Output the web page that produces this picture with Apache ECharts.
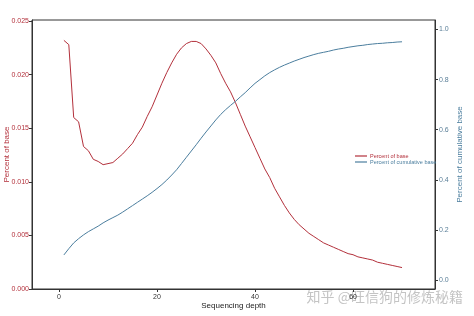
<!DOCTYPE html>
<html>
<head>
<meta charset="utf-8">
<script src="https://cdn.jsdelivr.net/npm/echarts@6/dist/echarts.min.js"></script>
<style>
html,body{margin:0;padding:0;background:#fff;}
#c{width:474px;height:316px;}
</style>
</head>
<body>
<div id="c"></div>
<script>
var depth = [];
for (var i = 1; i <= 70; i++) depth.push(i);
var percentBase = [
 0.0232,0.0228,0.0160,0.0156,0.0133,0.0129,0.0121,0.0119,0.0116,0.0117,
 0.0118,0.0122,0.0126,0.0131,0.0136,0.0144,0.0151,0.0161,0.0170,0.0181,
 0.0192,0.0202,0.0211,0.0219,0.0225,0.0229,0.0231,0.0231,0.0229,0.0224,
 0.0218,0.0211,0.0201,0.0192,0.0184,0.0174,0.0163,0.0152,0.0142,0.0132,
 0.0122,0.0112,0.0104,0.0094,0.0086,0.0078,0.0071,0.0065,0.0060,0.0056,
 0.0052,0.0049,0.0046,0.0043,0.0041,0.0039,0.0037,0.0035,0.0033,0.0032,
 0.0030,0.0029,0.0028,0.0027,0.0025,0.0024,0.0023,0.0022,0.0021,0.0020
];
var percentCumulative = [
 0.100,0.125,0.148,0.165,0.180,0.193,0.204,0.215,0.228,0.239,
 0.249,0.259,0.271,0.284,0.297,0.310,0.323,0.336,0.350,0.365,
 0.381,0.399,0.419,0.440,0.465,0.490,0.515,0.540,0.566,0.591,
 0.615,0.639,0.661,0.680,0.697,0.713,0.731,0.748,0.767,0.785,
 0.800,0.815,0.828,0.839,0.849,0.858,0.866,0.874,0.881,0.888,
 0.894,0.900,0.905,0.909,0.913,0.918,0.922,0.925,0.929,0.932,
 0.935,0.937,0.940,0.942,0.944,0.945,0.947,0.948,0.950,0.951
];
var xTicks = [0, 20, 40, 60];
var leftTicks = [0, 0.005, 0.010, 0.015, 0.020, 0.025];
var rightTicks = [0, 0.2, 0.4, 0.6, 0.8, 1.0];

var RED = '#b3303b';
var BLUE = '#4b7e9e';
var FONT = 'Liberation Sans, Arial, sans-serif';

function pairs(xs, ys){ return xs.map(function(x,i){ return [x, ys[i]]; }); }

var chart = echarts.init(document.getElementById('c'), null, {renderer:'canvas'});
chart.setOption({
  animation:false,
  backgroundColor:'#fff',
  textStyle:{fontFamily:FONT},
  grid:{left:32, right:39, top:20, bottom:27, containLabel:false, outerBoundsMode:'none',
    show:true, borderColor:'#333', borderWidth:1, backgroundColor:'transparent'},
  xAxis:{
    type:'value', min:-5.51, max:76.73,
    name:'Sequencing depth', nameLocation:'middle', nameGap:13, nameMoveOverlap:false,
    nameTextStyle:{fontSize:8, color:'#222', fontFamily:FONT},
    axisLine:{show:true, onZero:false, lineStyle:{color:'#333', width:1}},
    axisTick:{show:true, length:3, customValues:xTicks, lineStyle:{color:'#333'}},
    axisLabel:{customValues:xTicks, fontSize:7, color:'#333', margin:5, fontFamily:FONT},
    splitLine:{show:false}
  },
  yAxis:[{
    type:'value', min:0, max:0.0251, position:'left',
    name:'Percent of base', nameLocation:'middle', nameGap:21, nameMoveOverlap:false,
    nameTextStyle:{fontSize:8, color:RED, fontFamily:FONT},
    axisLine:{show:true, onZero:false, lineStyle:{color:'#333', width:1}},
    axisTick:{show:true, length:3, customValues:leftTicks, lineStyle:{color:'#333'}},
    axisLabel:{customValues:leftTicks, fontSize:7, color:RED, margin:3, fontFamily:FONT,
      formatter:function(v){ return v.toFixed(3); }},
    splitLine:{show:false}
  },{
    type:'value', min:-0.036, max:1.038, position:'right',
    name:'Percent of cumulative base', nameLocation:'middle', nameGap:21, nameMoveOverlap:false,
    nameRotate:90,
    nameTextStyle:{fontSize:8, color:BLUE, fontFamily:FONT},
    axisLine:{show:true, onZero:false, lineStyle:{color:'#333', width:1}},
    axisTick:{show:true, length:3, customValues:rightTicks, lineStyle:{color:'#333'}},
    axisLabel:{customValues:rightTicks, fontSize:7, color:'#5a7f98', margin:4, fontFamily:FONT,
      formatter:function(v){ return v.toFixed(1); }},
    splitLine:{show:false}
  }],
  legend:{
    orient:'vertical', left:350, top:148, icon:'rect', itemWidth:12, itemHeight:1.2, itemGap:0,
    textStyle:{fontSize:5.5, fontFamily:FONT, padding:[0,0,0,-2]},
    data:[
      {name:'Percent of base', textStyle:{color:RED}},
      {name:'Percent of cumulative base', textStyle:{color:BLUE}}
    ]
  },
  series:[{
    name:'Percent of base', type:'line', yAxisIndex:0, showSymbol:false,
    data:pairs(depth, percentBase), color:RED, lineStyle:{width:1, color:RED}
  },{
    name:'Percent of cumulative base', type:'line', yAxisIndex:1, showSymbol:false,
    data:pairs(depth, percentCumulative), color:BLUE, lineStyle:{width:1, color:BLUE}
  }],
  graphic:[{
    type:'text', left:306, top:289, silent:true,
    style:{text:'知乎 @旺信狗的修炼秘籍', fontSize:14, fontFamily:'Noto Sans CJK SC', fill:'rgba(190,190,190,0.9)', stroke:'rgba(255,255,255,0.8)', lineWidth:1}
  }]
});
</script>
</body>
</html>
